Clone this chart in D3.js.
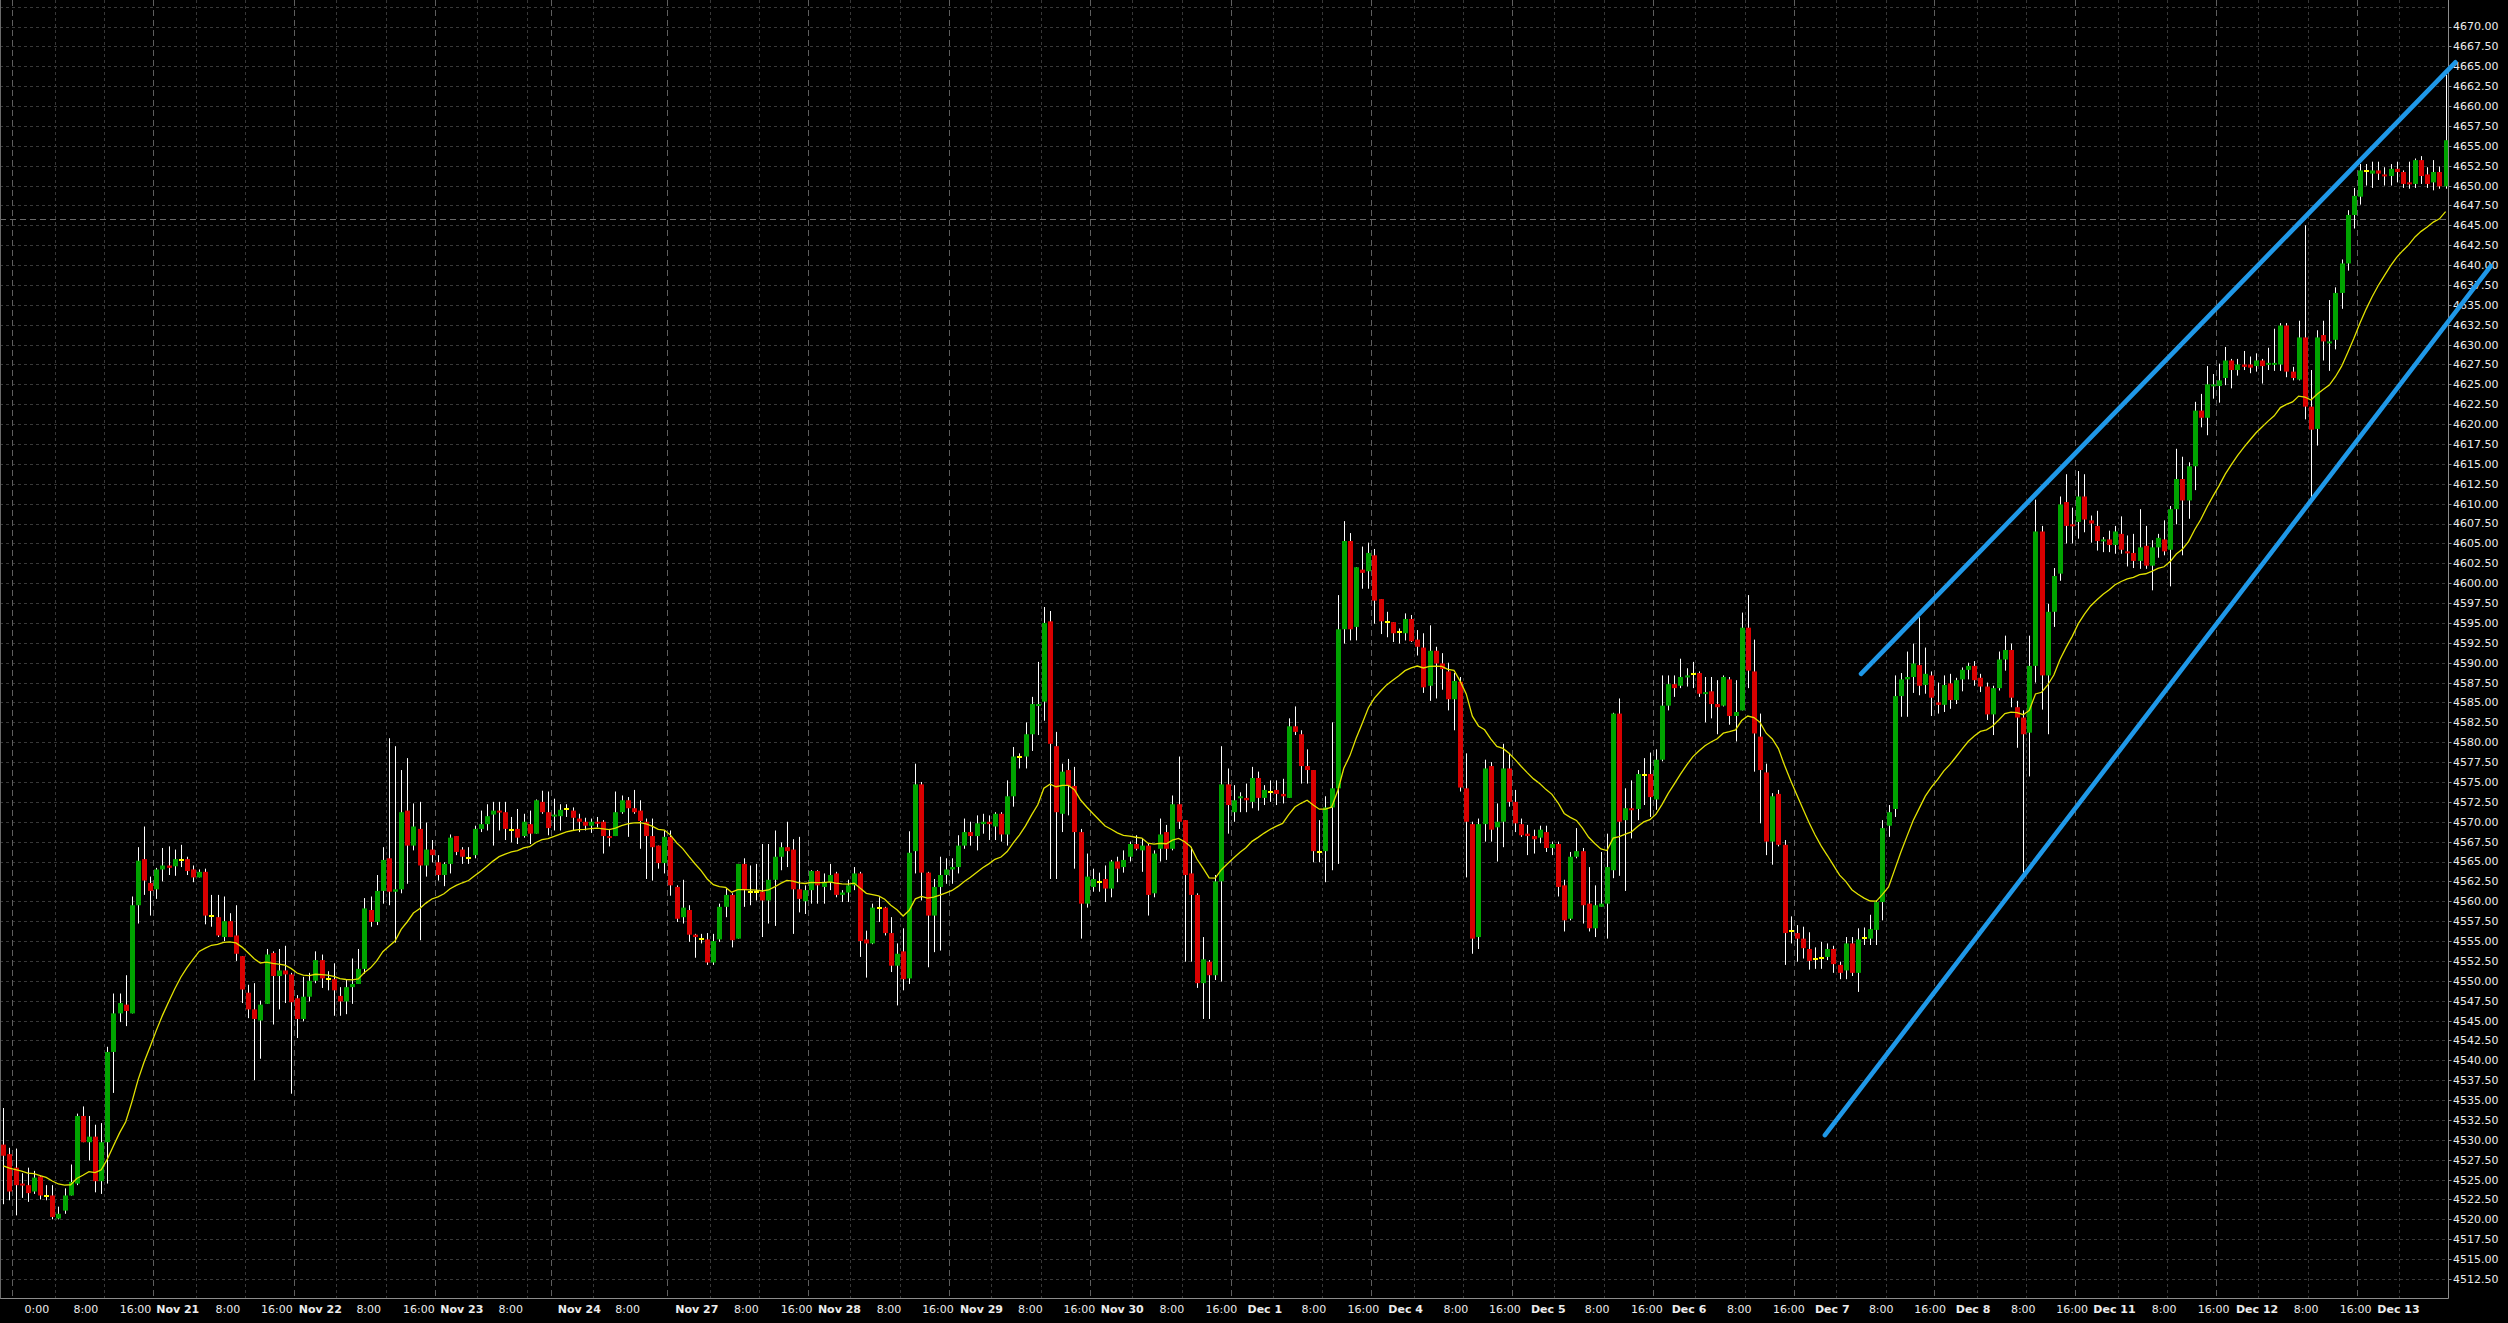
<!DOCTYPE html>
<html><head><meta charset="utf-8">
<script src="https://cdn.jsdelivr.net/npm/d3@7"></script>
<style>html,body{margin:0;padding:0;background:#000;overflow:hidden}svg{display:block}</style>
</head><body>
<svg id="chart" width="2508" height="1323"></svg>
<script>
// ---- DATA (hourly bars, Nov 20 - Dec 13) ----
const open = [
4529.4,4528.2,4526.5,4524.5,4524.3,4523.5,4525.4,4522.9,4523.0,4520.1,
4521.1,4523.0,4524.5,4533.0,4529.7,4530.4,4524.8,4529.7,4541.05,4545.9,
4547.0,4545.9,4559.5,4565.3,4562.3,4561.5,4564.0,4564.5,4564.4,4565.2,
4565.3,4564.0,4563.0,4563.7,4558.1,4558.0,4555.5,4557.5,4555.7,4553.1,
4548.5,4546.4,4545.0,4547.1,4553.5,4550.6,4551.3,4550.8,4547.8,4545.2,
4548.0,4550.0,4552.6,4550.2,4550.2,4548.1,4547.4,4549.2,4549.6,4551.5,
4558.9,4557.4,4561.3,4565.4,4561.2,4561.5,4571.4,4567.0,4569.1,4564.5,
4566.5,4564.9,4563.3,4564.7,4568.2,4566.5,4565.4,4565.8,4569.1,4569.7,
4570.9,4571.4,4571.2,4569.0,4569.1,4568.2,4569.7,4568.5,4572.5,4571.2,
4570.7,4570.7,4571.6,4571.4,4570.4,4570.0,4569.5,4570.0,4570.0,4568.2,
4568.2,4571.2,4572.7,4571.7,4571.4,4570.0,4568.2,4567.0,4564.8,4568.1,
4561.8,4558.0,4558.9,4555.8,4555.2,4555.2,4552.3,4555.2,4559.3,4560.8,
4555.3,4564.7,4561.2,4561.2,4561.2,4560.1,4562.7,4565.6,4566.8,4566.5,
4561.5,4560.0,4561.4,4563.8,4561.8,4562.4,4563.5,4560.8,4561.1,4562.0,
4563.5,4555.2,4554.7,4559.1,4559.2,4556.0,4551.9,4553.7,4550.3,4566.3,
4574.7,4563.6,4558.2,4561.8,4563.3,4564.0,4564.3,4567.0,4568.7,4568.2,
4569.7,4570.0,4569.4,4571.0,4568.4,4573.2,4578.1,4578.2,4581.0,4584.6,
4585.1,4595.2,4579.5,4571.0,4576.5,4574.5,4568.7,4559.7,4561.8,4562.4,
4562.8,4561.6,4565.0,4564.3,4565.6,4567.2,4566.4,4567.0,4561.0,4566.6,
4568.7,4566.6,4572.2,4570.2,4563.5,4560.8,4549.7,4552.4,4550.7,4562.5,
4574.7,4571.2,4573.0,4573.0,4572.5,4575.5,4573.0,4573.8,4574.0,4573.5,
4573.0,4582.0,4581.0,4577.0,4576.5,4566.2,4566.3,4571.8,4574.2,4594.2,
4605.3,4594.5,4601.7,4601.5,4603.5,4598.0,4595.1,4595.1,4593.9,4593.7,
4595.5,4592.9,4591.9,4587.1,4591.5,4589.9,4588.9,4585.4,4587.6,4574.2,
4569.7,4555.5,4569.7,4577.0,4569.3,4570.0,4576.7,4572.5,4569.7,4568.5,
4568.2,4568.0,4568.7,4566.7,4567.2,4562.0,4557.8,4565.6,4566.3,4559.7,
4556.6,4559.3,4559.7,4563.9,4583.6,4570.2,4571.7,4571.6,4575.9,4576.0,
4572.8,4577.8,4584.6,4587.3,4587.1,4588.2,4588.6,4588.7,4586.1,4586.4,
4584.8,4584.6,4587.9,4583.3,4584.0,4594.4,4588.9,4580.7,4576.2,4567.5,
4573.5,4567.1,4556.2,4556.0,4555.3,4554.0,4552.7,4552.9,4553.0,4554.0,
4552.0,4551.3,4554.7,4551.0,4555.4,4555.3,4556.4,4559.9,4569.5,4571.6,
4585.8,4587.9,4588.2,4589.7,4587.2,4588.4,4585.0,4584.7,4587.4,4585.3,
4587.9,4589.1,4589.6,4588.1,4587.0,4583.5,4586.8,4590.4,4591.6,4584.4,
4583.1,4581.2,4589.6,4606.5,4588.4,4596.4,4601.2,4610.2,4607.4,4607.7,
4610.9,4607.9,4607.2,4605.3,4605.5,4604.8,4606.2,4604.0,4603.8,4602.8,
4604.7,4602.2,4604.5,4605.5,4604.2,4609.3,4613.1,4610.4,4614.7,4621.7,
4620.8,4624.8,4624.8,4625.8,4628.0,4626.8,4627.5,4627.5,4627.3,4628.0,
4627.5,4627.5,4627.5,4632.4,4626.6,4625.6,4630.9,4622.2,4619.4,4631.2,
4630.2,4630.6,4636.5,4640.2,4646.3,4648.6,4651.8,4651.5,4651.9,4651.4,
4651.2,4652.1,4651.7,4650.4,4650.2,4653.2,4651.4,4650.4,4651.7,4649.9];
const high = [
4534.0,4529.0,4528.9,4525.8,4526.5,4526.1,4525.5,4524.3,4524.3,4521.6,
4523.9,4526.9,4533.3,4534.2,4533.0,4531.9,4532.1,4541.7,4548.4,4548.4,
4550.7,4560.6,4566.8,4569.4,4563.1,4564.2,4566.7,4566.9,4566.5,4567.1,
4565.6,4564.5,4564.0,4564.1,4560.8,4560.8,4560.6,4558.5,4559.5,4553.1,
4549.5,4549.7,4547.5,4554.0,4553.7,4554.0,4554.4,4551.0,4548.2,4550.5,
4551.0,4553.7,4553.3,4551.2,4552.2,4549.2,4550.2,4552.8,4554.0,4560.4,
4560.6,4563.3,4566.8,4580.5,4579.5,4576.5,4578.0,4572.3,4572.5,4569.9,
4567.7,4565.8,4564.9,4568.4,4568.2,4566.8,4566.8,4569.5,4571.4,4572.2,
4572.5,4572.5,4572.5,4570.6,4571.6,4571.0,4571.4,4572.8,4573.9,4573.8,
4572.9,4572.2,4572.2,4571.8,4571.0,4570.5,4570.4,4570.6,4570.2,4569.1,
4573.8,4573.3,4573.1,4574.0,4572.7,4570.4,4570.4,4567.0,4568.9,4568.9,
4562.0,4562.7,4559.5,4555.9,4555.9,4556.0,4555.9,4559.7,4561.6,4561.0,
4564.7,4565.4,4564.5,4564.7,4567.2,4567.2,4568.9,4567.4,4570.0,4567.8,
4568.1,4562.0,4563.9,4563.9,4563.5,4564.7,4563.7,4561.4,4562.7,4564.3,
4563.7,4556.3,4559.7,4560.5,4559.3,4558.0,4554.7,4556.6,4568.8,4577.3,
4575.0,4563.7,4562.8,4565.6,4565.4,4565.4,4568.3,4570.4,4570.0,4570.8,
4571.0,4570.8,4571.2,4571.2,4575.2,4579.4,4578.6,4582.5,4585.7,4590.1,
4597.0,4596.5,4581.3,4577.3,4577.9,4576.9,4569.1,4566.0,4564.1,4563.6,
4564.5,4565.2,4565.6,4566.4,4567.5,4568.3,4567.9,4567.2,4566.4,4570.4,
4569.6,4573.3,4578.2,4570.2,4566.8,4561.0,4555.5,4552.6,4563.3,4579.5,
4576.7,4574.6,4573.7,4574.8,4576.9,4576.3,4574.6,4575.2,4575.2,4575.4,
4583.0,4584.5,4581.5,4579.1,4576.5,4570.2,4573.2,4582.5,4598.5,4607.8,
4606.3,4602.0,4604.6,4605.1,4604.3,4598.0,4596.4,4595.1,4594.3,4596.2,
4596.0,4594.1,4593.7,4594.7,4592.0,4591.2,4590.0,4588.7,4588.2,4578.6,
4570.0,4570.4,4577.8,4577.5,4572.3,4579.8,4578.6,4574.0,4570.4,4569.6,
4569.0,4569.5,4569.5,4567.5,4567.5,4562.7,4566.2,4569.2,4566.7,4564.3,
4562.0,4566.2,4568.5,4583.7,4585.5,4574.2,4575.2,4576.5,4578.0,4578.7,
4579.1,4588.4,4588.4,4588.4,4590.5,4589.3,4590.1,4588.9,4588.2,4588.2,
4587.8,4588.4,4588.2,4587.8,4596.3,4598.5,4592.9,4583.6,4577.3,4573.6,
4574.0,4567.7,4558.1,4557.0,4556.8,4556.1,4554.2,4554.9,4554.7,4554.4,
4552.4,4555.5,4555.5,4556.6,4556.7,4558.3,4560.1,4570.2,4572.1,4588.4,
4588.7,4591.4,4592.4,4595.7,4591.9,4588.9,4587.5,4588.4,4588.6,4588.1,
4589.4,4590.0,4590.2,4588.6,4587.5,4587.1,4591.4,4593.4,4592.4,4585.2,
4584.0,4593.4,4610.5,4607.2,4597.4,4601.9,4610.9,4613.7,4609.5,4614.1,
4613.7,4608.5,4609.1,4605.8,4606.6,4607.2,4608.4,4606.0,4606.2,4609.3,
4607.2,4605.4,4606.2,4607.9,4609.7,4616.9,4615.9,4615.2,4622.8,4623.8,
4627.3,4626.3,4627.6,4629.7,4628.2,4628.2,4629.2,4628.5,4628.9,4628.2,
4629.6,4632.0,4632.7,4632.7,4627.2,4633.0,4645.0,4626.8,4631.8,4633.0,
4635.6,4637.2,4640.7,4646.9,4649.7,4652.7,4652.7,4653.0,4653.0,4652.3,
4652.7,4653.0,4651.9,4653.0,4653.4,4653.7,4652.3,4653.2,4652.4,4663.9];
const low = [
4521.9,4522.4,4520.5,4522.7,4522.2,4523.2,4522.5,4522.4,4520.0,4520.0,
4520.7,4523.0,4524.3,4529.7,4527.4,4523.4,4523.2,4524.5,4535.9,4544.8,
4544.3,4545.9,4557.2,4560.8,4558.2,4560.3,4562.5,4563.3,4563.2,4564.3,
4563.3,4562.4,4563.0,4557.1,4556.8,4555.5,4555.0,4555.5,4552.5,4547.2,
4545.3,4537.5,4540.2,4547.1,4544.5,4546.4,4547.2,4535.8,4542.8,4544.9,
4547.4,4549.7,4549.1,4548.8,4545.6,4545.6,4545.8,4547.1,4549.6,4550.9,
4556.8,4557.0,4559.7,4559.5,4554.8,4561.0,4562.2,4566.4,4555.1,4563.1,
4564.9,4562.6,4561.9,4563.5,4565.8,4564.7,4564.7,4565.4,4568.7,4568.9,
4567.0,4568.9,4567.7,4567.4,4567.2,4568.0,4567.2,4568.5,4571.0,4568.3,
4568.9,4568.9,4570.6,4568.9,4568.7,4568.9,4568.6,4569.3,4566.0,4566.9,
4568.2,4571.0,4568.1,4571.0,4566.6,4562.8,4562.6,4564.1,4563.5,4560.7,
4557.4,4557.2,4554.9,4552.9,4554.7,4552.0,4552.0,4554.9,4558.0,4554.2,
4555.3,4559.3,4559.5,4560.1,4555.5,4557.2,4556.9,4563.9,4564.3,4555.9,
4558.6,4558.4,4559.7,4559.7,4559.7,4561.4,4560.5,4559.9,4559.9,4561.4,
4553.0,4550.4,4554.6,4557.4,4555.7,4551.1,4546.9,4548.8,4549.6,4563.5,
4560.1,4551.7,4553.6,4553.8,4562.2,4562.2,4563.5,4566.6,4567.0,4566.4,
4568.5,4567.7,4567.7,4567.5,4567.0,4571.9,4576.7,4576.7,4578.9,4580.9,
4582.7,4562.8,4562.8,4568.7,4570.8,4564.1,4555.3,4559.2,4561.2,4561.2,
4559.9,4560.5,4562.4,4563.6,4565.0,4566.4,4563.7,4558.2,4560.5,4565.0,
4565.2,4566.4,4569.1,4552.4,4552.4,4549.1,4545.2,4545.2,4550.1,4549.9,
4568.5,4570.0,4571.2,4571.2,4571.7,4571.4,4572.1,4572.5,4572.1,4572.3,
4573.0,4580.9,4574.8,4574.8,4564.9,4564.9,4562.4,4563.9,4564.7,4592.4,
4592.8,4592.8,4599.3,4599.3,4594.9,4593.6,4593.2,4592.6,4592.4,4592.8,
4592.6,4590.9,4586.2,4585.2,4585.5,4586.6,4584.0,4581.5,4573.8,4563.0,
4553.4,4554.0,4567.5,4567.5,4565.0,4566.8,4571.9,4568.7,4568.1,4565.8,
4566.0,4567.3,4566.2,4565.8,4560.6,4556.2,4557.6,4565.4,4557.2,4556.2,
4555.5,4559.3,4555.3,4562.9,4563.2,4561.3,4567.9,4570.2,4572.1,4570.6,
4571.5,4577.6,4584.0,4585.7,4586.8,4587.0,4586.8,4585.7,4582.5,4583.0,
4581.0,4584.5,4582.2,4580.1,4584.0,4586.8,4576.3,4569.8,4565.8,4564.6,
4566.9,4552.0,4554.7,4552.4,4552.8,4551.4,4551.5,4551.5,4552.6,4551.0,
4550.2,4550.2,4550.6,4548.6,4554.5,4554.5,4554.5,4557.6,4568.1,4570.6,
4583.2,4583.2,4586.2,4585.9,4586.1,4583.3,4583.6,4583.8,4584.2,4584.8,
4586.4,4587.9,4587.1,4586.3,4582.8,4580.9,4586.5,4589.0,4584.4,4579.3,
4563.6,4575.7,4587.5,4584.1,4581.0,4594.5,4600.3,4605.0,4605.0,4605.6,
4606.4,4605.1,4604.1,4603.9,4603.9,4603.7,4603.7,4602.1,4601.9,4601.8,
4601.8,4599.1,4603.2,4603.5,4599.6,4607.4,4603.5,4608.1,4611.7,4619.6,
4618.6,4623.2,4622.7,4624.9,4624.5,4626.1,4626.8,4626.4,4626.6,4625.1,
4626.8,4626.7,4626.7,4625.9,4625.5,4625.5,4620.6,4610.6,4617.3,4628.0,
4626.7,4629.4,4634.5,4639.3,4644.6,4647.6,4650.0,4649.7,4650.7,4650.0,
4650.0,4650.4,4649.7,4649.6,4649.7,4650.2,4649.7,4649.4,4649.6,4649.6];
const close = [
4528.0,4523.5,4524.3,4524.3,4523.3,4525.25,4523.0,4522.9,4520.3,4520.7,
4523.0,4524.7,4533.0,4529.7,4530.4,4524.8,4529.7,4541.05,4545.9,4547.2,
4546.2,4559.5,4565.1,4562.6,4561.3,4564.0,4564.5,4564.2,4565.3,4565.2,
4563.8,4563.0,4563.7,4558.2,4558.1,4555.7,4557.5,4555.5,4553.4,4548.9,
4546.4,4545.2,4547.0,4553.3,4550.6,4551.3,4550.8,4547.3,4545.2,4548.0,
4550.0,4552.6,4550.3,4550.2,4548.8,4547.4,4549.2,4549.6,4551.5,4559.1,
4557.4,4561.3,4565.2,4561.2,4561.5,4571.2,4567.0,4569.4,4564.5,4566.5,
4565.8,4563.3,4564.7,4568.0,4566.2,4565.6,4565.4,4569.1,4569.7,4570.7,
4571.4,4571.2,4569.1,4569.0,4568.0,4570.0,4568.5,4572.7,4571.2,4569.2,
4570.9,4571.5,4571.6,4570.5,4570.0,4569.5,4570.0,4569.8,4568.2,4568.0,
4571.2,4572.7,4571.7,4571.2,4570.1,4568.2,4566.8,4564.8,4568.1,4562.0,
4557.8,4559.2,4555.8,4555.5,4555.2,4552.3,4555.0,4559.3,4560.8,4555.1,
4564.7,4561.4,4561.2,4561.2,4560.1,4562.7,4565.6,4566.8,4566.3,4561.5,
4560.3,4561.4,4563.8,4562.0,4562.4,4563.3,4560.8,4561.1,4562.0,4563.5,
4555.0,4554.7,4559.2,4559.1,4556.0,4551.9,4553.4,4550.2,4566.1,4574.7,
4563.6,4558.2,4561.8,4563.3,4564.0,4564.3,4567.0,4568.7,4568.2,4569.8,
4570.0,4569.7,4571.0,4568.4,4573.2,4578.2,4578.1,4581.0,4584.8,4584.8,
4595.0,4579.8,4571.2,4576.3,4574.5,4568.7,4559.7,4563.1,4562.8,4562.4,
4561.6,4565.0,4564.1,4565.2,4567.2,4566.6,4567.0,4560.8,4566.0,4568.4,
4566.6,4572.2,4570.0,4563.3,4560.8,4549.7,4552.7,4550.7,4562.5,4574.7,
4572.1,4572.7,4573.2,4572.7,4575.5,4573.0,4574.0,4573.8,4573.5,4573.2,
4582.0,4581.3,4577.0,4576.5,4566.3,4566.2,4571.8,4574.2,4594.2,4605.3,
4594.2,4602.0,4601.3,4603.8,4597.8,4595.2,4595.1,4593.7,4593.9,4595.5,
4592.7,4592.0,4586.9,4591.5,4589.9,4589.2,4585.4,4587.7,4574.3,4570.0,
4555.3,4569.7,4576.7,4569.0,4570.0,4576.7,4572.5,4569.8,4568.3,4568.2,
4567.8,4569.0,4566.7,4567.2,4561.8,4557.6,4565.6,4566.3,4559.5,4556.6,
4559.5,4559.7,4564.3,4583.6,4570.0,4571.7,4571.5,4576.0,4575.9,4573.1,
4577.8,4584.6,4587.3,4586.8,4588.2,4588.4,4588.6,4586.1,4586.3,4584.8,
4584.4,4588.2,4583.3,4583.8,4594.4,4589.0,4581.1,4576.5,4567.5,4573.2,
4567.1,4556.0,4556.2,4555.3,4554.1,4552.5,4552.7,4552.9,4554.0,4552.1,
4551.0,4554.7,4551.0,4555.2,4555.4,4556.5,4559.9,4569.2,4571.2,4585.8,
4587.9,4588.2,4589.9,4587.1,4588.6,4585.6,4584.7,4587.2,4585.3,4587.8,
4589.1,4589.6,4587.8,4587.0,4583.5,4586.8,4590.4,4591.6,4585.6,4583.1,
4581.0,4589.6,4606.5,4588.4,4596.4,4600.9,4609.9,4607.2,4607.2,4610.9,
4608.0,4607.5,4605.3,4605.5,4604.8,4606.5,4604.2,4603.8,4602.8,4604.5,
4602.2,4604.5,4605.7,4604.0,4609.3,4613.1,4610.4,4614.7,4621.7,4620.8,
4625.0,4625.0,4625.5,4628.0,4626.8,4627.5,4627.2,4627.1,4628.0,4627.3,
4627.7,4627.7,4632.4,4626.6,4625.8,4630.9,4622.2,4619.3,4630.9,4630.4,
4630.4,4636.5,4640.2,4646.3,4648.7,4651.9,4651.8,4651.9,4651.5,4651.2,
4652.1,4651.7,4650.2,4650.2,4653.2,4651.2,4650.2,4651.7,4649.9,4655.7];

// Moving average (exponential) settings; seed = MA value at the first bar
const maPeriod = 21;
const maSeed = 4526.6;

// Time axis labels and the (fractional) bar each is centred on
const tickLabels = ["0:00","8:00","16:00","Nov 21","8:00","16:00","Nov 22","8:00","16:00","Nov 23","8:00","Nov 24","8:00","Nov 27","8:00","16:00","Nov 28","8:00","16:00","Nov 29","8:00","16:00","Nov 30","8:00","16:00","Dec 1","8:00","16:00","Dec 4","8:00","16:00","Dec 5","8:00","16:00","Dec 6","8:00","16:00","Dec 7","8:00","16:00","Dec 8","8:00","16:00","Dec 11","8:00","16:00","Dec 12","8:00","16:00","Dec 13"];
const tickBars = [5.5,13.5,21.6,28.5,36.7,44.7,51.8,59.7,67.9,74.9,82.9,94.1,102.0,113.3,121.4,129.6,136.6,144.7,152.7,159.8,167.8,175.8,182.8,190.9,199.0,206.1,214.1,222.2,229.1,237.3,245.3,252.4,260.4,268.5,275.4,283.6,291.7,298.8,306.8,314.8,321.8,330.0,338.0,344.9,353.0,361.1,368.2,376.2,384.3,391.3];

// First bar of each trading day (day separators)
const dayStartBars = [2,25,48,71,90,109,132,155,178,201,224,247,270,293,316,339,362,385];
// Bars with intraday grid lines
const minorGridBars = [8.4,16.5,31.4,39.5,54.4,62.5,77.4,85.5,96.4,115.4,123.5,138.4,146.5,161.4,169.5,184.4,192.5,207.4,215.5,230.4,238.5,253.4,261.5,276.4,284.5,299.4,307.5,322.4,330.5,345.4,353.5,368.4,376.5,391.4];

// Current price line
const priceLine = 4645.75;

// Trend channel lines: [barIndex, price]
const channelUpper = [[303.5, 4588.6],[400.6, 4665.5]];
const channelLower = [[297.6, 4530.6],[406.4, 4639.9]];

// ---- CHART ----
const W = 2508, H = 1323;
const plotRight = 2448.5, plotBottom = 1298.5;
const svg = d3.select("#chart");
svg.append("rect").attr("width",W).attr("height",H).attr("fill","#000");

const x = d3.scaleLinear().domain([0, 399]).range([3.3, 2445.6]);
const y = d3.scaleLinear().domain([4512.5, 4670]).range([1279, 26.5]);

svg.append("defs").append("clipPath").attr("id","plot")
  .append("rect").attr("x",0).attr("y",0).attr("width",plotRight).attr("height",plotBottom);

const grid = svg.append("g").attr("clip-path","url(#plot)");
const gridPrices = d3.range(4512.5, 4673, 2.5);
grid.selectAll("line.h").data(gridPrices).join("line").attr("class","h")
  .attr("x1",0).attr("x2",plotRight)
  .attr("y1",d=>Math.round(y(d))+0.5).attr("y2",d=>Math.round(y(d))+0.5)
  .attr("stroke","#383838").attr("stroke-dasharray","3,3");
grid.selectAll("line.m").data(minorGridBars).join("line").attr("class","m")
  .attr("x1",d=>Math.round(x(d))+0.5).attr("x2",d=>Math.round(x(d))+0.5)
  .attr("y1",0).attr("y2",plotBottom)
  .attr("stroke","#383838").attr("stroke-dasharray","3,3");
grid.selectAll("line.s").data(dayStartBars).join("line").attr("class","s")
  .attr("x1",d=>Math.round(x(d-0.5))+0.5).attr("x2",d=>Math.round(x(d-0.5))+0.5)
  .attr("y1",0).attr("y2",plotBottom)
  .attr("stroke","#5e5e5e").attr("stroke-dasharray","6,4");
grid.append("line")
  .attr("x1",0).attr("x2",plotRight)
  .attr("y1",Math.round(y(priceLine))+0.5).attr("y2",Math.round(y(priceLine))+0.5)
  .attr("stroke","#6a6a6a").attr("stroke-dasharray","6,4");

// candles
const bars = d3.range(close.length).map(i=>({i,o:open[i],h:high[i],l:low[i],c:close[i]}));
const cg = svg.append("g").attr("clip-path","url(#plot)");
cg.selectAll("line.w").data(bars).join("line").attr("class","w")
  .attr("x1",d=>Math.round(x(d.i))+0.5).attr("x2",d=>Math.round(x(d.i))+0.5)
  .attr("y1",d=>y(d.h)).attr("y2",d=>y(d.l))
  .attr("stroke","#ffffff").attr("stroke-width",1);
cg.selectAll("rect.b").data(bars).join("rect").attr("class","b")
  .attr("x",d=>Math.round(x(d.i))-2).attr("width",5)
  .attr("y",d=>{
    if (d.o===d.c) return Math.round(y(d.o))-1;
    return Math.min(y(d.o),y(d.c));})
  .attr("height",d=>{
    if (d.o===d.c) return 2;
    return Math.max(2, Math.abs(y(d.o)-y(d.c)));})
  .attr("fill",d=> d.c>d.o ? "#00a300" : (d.c<d.o ? "#d90000" : "#ffff00"));

// exponential moving average of close
const alpha = 2/(maPeriod+1);
const ma = [];
close.forEach((c,i)=>{ ma.push(i===0 ? maSeed + alpha*(c-maSeed) : ma[i-1] + alpha*(c-ma[i-1])); });
cg.append("path").datum(ma)
  .attr("d", d3.line().x((d,i)=>x(i)).y(d=>y(d)))
  .attr("fill","none").attr("stroke","#e2e200").attr("stroke-width",1.3);

// axes frame
svg.append("line").attr("x1",plotRight).attr("x2",plotRight).attr("y1",0).attr("y2",plotBottom)
  .attr("stroke","#8c8c8c");
svg.append("line").attr("x1",0).attr("x2",plotRight).attr("y1",plotBottom).attr("y2",plotBottom)
  .attr("stroke","#8c8c8c");
svg.append("line").attr("x1",0.5).attr("x2",0.5).attr("y1",0).attr("y2",plotBottom)
  .attr("stroke","#6a6a6a");

// price axis
const labelPrices = gridPrices.filter(p=>p<=4670);
const ya = svg.append("g");
ya.selectAll("line").data(labelPrices).join("line")
  .attr("x1",plotRight).attr("x2",plotRight+3)
  .attr("y1",d=>Math.round(y(d))+0.5).attr("y2",d=>Math.round(y(d))+0.5)
  .attr("stroke","#8c8c8c");
ya.selectAll("text").data(labelPrices).join("text")
  .attr("x",2453).attr("y",d=>y(d)).attr("dy","0.36em")
  .attr("font-family","'DejaVu Sans', sans-serif").attr("font-size","11px")
  .attr("fill","#ececec").text(d=>d3.format(".2f")(d));

// time axis
const xa = svg.append("g");
xa.selectAll("text").data(tickLabels).join("text")
  .attr("x",(d,k)=>x(tickBars[k])).attr("y",1313)
  .attr("text-anchor","middle")
  .attr("font-family","'DejaVu Sans', sans-serif").attr("font-size","11px")
  .attr("font-weight",d=>/^(Nov|Dec)/.test(d)?"bold":"normal")
  .attr("fill","#ececec").text(d=>d);

// channel lines
const cl = d3.line().x(d=>x(d[0])).y(d=>y(d[1]));
[channelUpper, channelLower].forEach(c=>{
  svg.append("path").datum(c).attr("d",cl)
    .attr("fill","none").attr("stroke","#1f98e8").attr("stroke-width",4.6)
    .attr("stroke-linecap","round");
});
</script>
</body></html>
